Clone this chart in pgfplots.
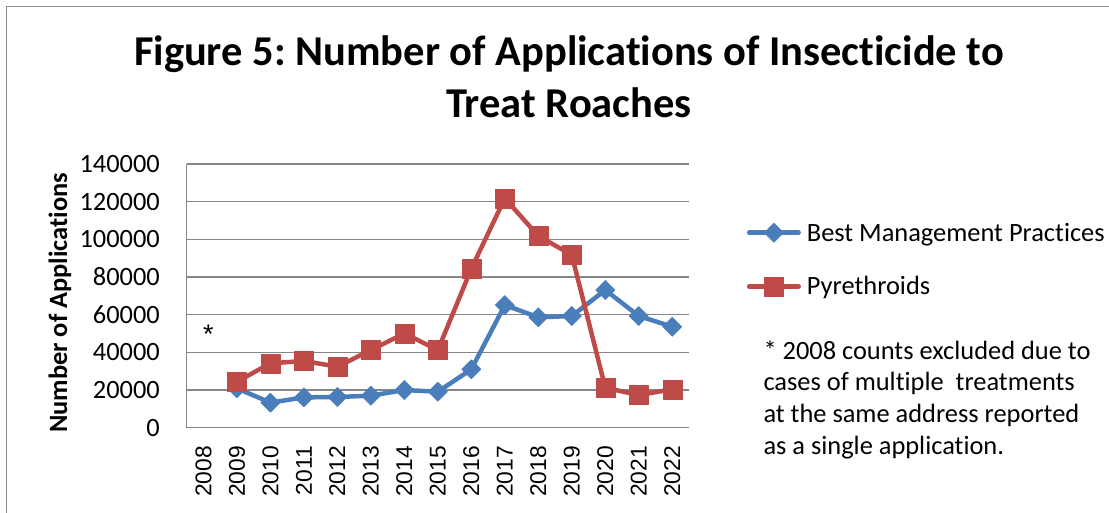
\documentclass[border=0pt]{standalone}
\usepackage{fontspec}
\setmainfont{Carlito}[Ligatures=NoCommon]
\newfontfamily\arialfont{Liberation Sans}
\usepackage{pgfplots}
\pgfplotsset{compat=1.18}
\definecolor{bmp}{HTML}{4A7EBB}
\definecolor{pyr}{HTML}{BE4B48}
\definecolor{gridg}{HTML}{868686}
\definecolor{frameg}{HTML}{8C8C8C}
\newcommand{\basefont}{\fontsize{26.4pt}{31.7pt}\selectfont}
\newcommand{\xfont}{\arialfont\fontsize{22.8pt}{27pt}\selectfont}
\frenchspacing
\begin{document}
\begin{tikzpicture}
\draw[frameg, line width=1.3pt] (6.7pt,-5pt) -- (6.7pt,506.5pt) -- (1115pt,506.5pt);
\begin{axis}[
  at={(186.7pt,85.3pt)}, anchor=south west,
  scale only axis, width=502.3pt, height=263.7pt,
  xmin=-0.5, xmax=14.5, ymin=0, ymax=140000,
  axis lines*=left,
  axis line style={-, draw=gridg, line width=1.3pt},
  ymajorgrids, grid style={draw=gridg, line width=1.3pt},
  major tick length=0pt,
  scaled y ticks=false,
  xtick={0,1,2,3,4,5,6,7,8,9,10,11,12,13,14},
  xticklabels={2008,2009,2010,2011,2012,2013,2014,2015,2016,2017,2018,2019,2020,2021,2022},
  ytick={0,20000,40000,60000,80000,100000,120000,140000},
  yticklabels={0,20000,40000,60000,80000,100000,120000,140000},
  yticklabel style={font=\basefont, anchor=east, inner sep=0pt, xshift=-26.7pt},
  xticklabel style={font=\xfont, yshift=-18.3pt, rotate=90, anchor=east, inner sep=0pt},
  legend style={draw=none, fill=none, at={(1.1149,0.6373)}, anchor=west,
    inner sep=0pt, font=\basefont, row sep=34pt, column sep=6pt,
    nodes={inner sep=0pt}, cells={anchor=west}},
  legend cell align=left,
  legend image code/.code={\draw[mark repeat=2,mark phase=2,#1] plot coordinates {(2.25pt,0pt) (27pt,0pt) (51.75pt,0pt)};},
]
\addplot[color=bmp, line width=4.5pt, line join=round, line cap=round,
  mark=square*, mark size=6.8pt, mark options={rotate=45, solid, line width=0.5pt}]
  coordinates {
  (1,20900) (2,13300) (3,16100) (4,16300) (5,17000) (6,20000) (7,19100)
  (8,31000) (9,65100) (10,58600) (11,59300) (12,73100) (13,59300) (14,53600)
  };
\addlegendentry{Best Management Practices}
\addplot[color=pyr, line width=4.5pt, line join=round, line cap=round,
  mark=square*, mark size=9.5pt, mark options={solid, line width=0.5pt}]
  coordinates {
  (1,24400) (2,34200) (3,35400) (4,32400) (5,41200) (6,50100) (7,41200)
  (8,84400) (9,121800) (10,101800) (11,91700) (12,21200) (13,17300) (14,20400)
  };
\addlegendentry{Pyrethroids}
\node[font=\arialfont\fontsize{27pt}{30pt}\selectfont, inner sep=0pt] at (axis cs:0.15,49500) {*};
\end{axis}
\node[font=\fontsize{42.5pt}{52pt}\selectfont\bfseries, anchor=base, inner sep=0pt] at (569pt,447pt) {Figure 5: Number of Applications of Insecticide to};
\node[font=\fontsize{42.5pt}{52pt}\selectfont\bfseries, anchor=base, inner sep=0pt] at (569pt,395pt) {Treat Roaches};
\node[font=\basefont\bfseries, rotate=90, inner sep=0pt] at (60pt,210pt) {Number of Applications};
\node[font=\basefont, anchor=base west, inner sep=0pt] at (763.3pt,153.7pt) {* 2008 counts excluded due to};
\node[font=\basefont, anchor=base west, inner sep=0pt] at (763.3pt,122pt) {cases of multiple\ \ treatments};
\node[font=\basefont, anchor=base west, inner sep=0pt] at (763.3pt,90pt) {at the same address reported};
\node[font=\basefont, anchor=base west, inner sep=0pt] at (763.3pt,58pt) {as a single application.};
\pgfresetboundingbox
\path[use as bounding box] (0pt,0pt) rectangle (1109pt,513pt);
\end{tikzpicture}
\end{document}
